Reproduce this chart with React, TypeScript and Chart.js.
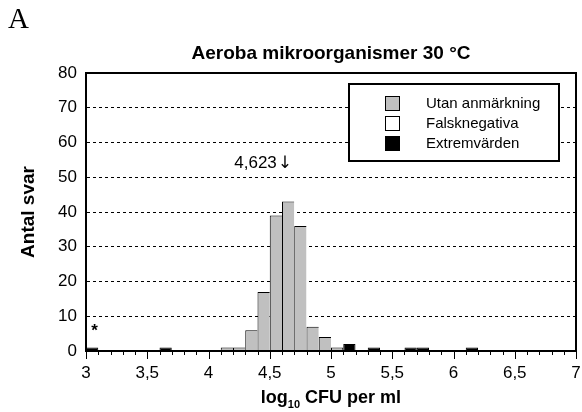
import React, { useEffect, useRef } from 'react';
import { Chart, registerables } from 'chart.js';

Chart.register(...registerables);

// ---- Text ----
const panelLetter = 'A';
const chartTitle = 'Aeroba mikroorganismer 30 °C';
const yAxisTitle = 'Antal svar';
const xAxisTitleMain = 'log';
const xAxisTitleSub = '10';
const xAxisTitleRest = ' CFU per ml';
const seriesNames = ['Utan anmärkning', 'Falsknegativa', 'Extremvärden'];
const seriesColors = ['#c0c0c0', '#ffffff', '#000000'];

// ---- Data (bin start, log10 CFU per ml; bin width 0.1) ----
const binWidth = 0.1;
const utanBinStarts = [4.1, 4.2, 4.3, 4.4, 4.5, 4.6, 4.7, 4.8, 4.9, 5.0];
const utanCounts = [1, 1, 6, 17, 39, 43, 36, 7, 4, 1];
const falskBinStarts: number[] = [];
const falskCounts: number[] = [];
const extremBinStarts = [3.0, 3.6, 5.1, 5.3, 5.6, 5.7, 6.1];
const extremCounts = [1, 1, 2, 1, 1, 1, 1];

// ---- Axes ----
const xMin = 3;
const xMax = 7;
const xLabelStep = 0.5;
const xMinorStep = 0.1;
const yMin = 0;
const yMax = 80;
const yStep = 10;

// ---- Annotations ----
const medianValue = 4.623;
const medianLabel = '4,623';
const medianLabelY = 54;
const asteriskX = 3.07;
const asteriskY = 5.8;

const FONT = "'Liberation Sans', Arial, sans-serif";

function toPoints(starts: number[], counts: number[]) {
  return starts.map((s, i) => ({ x: s + binWidth / 2, y: counts[i] }));
}

function runBorder(starts: number[]) {
  return (c: any) => {
    const i = c.dataIndex;
    const hasNext = starts.some((s) => Math.abs(s - starts[i] - binWidth) < 1e-6);
    return { top: 1, left: 1, right: hasNext ? 0 : 1, bottom: 0 };
  };
}

const decorPlugin = {
  id: 'decor',
  afterDraw(chart: any) {
    const { ctx, chartArea, scales } = chart;
    const xs = scales.x;
    const ys = scales.y;
    const { left, right, top, bottom } = chartArea;
    ctx.save();

    // x tick marks (minor & major)
    ctx.strokeStyle = '#000';
    ctx.lineWidth = 1;
    const n = Math.round((xMax - xMin) / xMinorStep);
    const perMajor = Math.round(xLabelStep / xMinorStep);
    for (let i = 0; i <= n; i++) {
      const v = xMin + i * xMinorStep;
      const px = Math.round(xs.getPixelForValue(v)) + 0.5;
      const len = i % perMajor === 0 ? 8 : 4;
      ctx.beginPath();
      ctx.moveTo(px, bottom);
      ctx.lineTo(px, bottom + len);
      ctx.stroke();
    }

    // frame
    ctx.lineWidth = 2;
    ctx.strokeRect(Math.round(left), Math.round(top), Math.round(right - left), Math.round(bottom - top));

    // legend box
    const bx = Math.round(right) - 227;
    const by = Math.round(top) + 11;
    const bw = 210;
    const bh = 77;
    ctx.fillStyle = '#fff';
    ctx.fillRect(bx, by, bw, bh);
    ctx.lineWidth = 2;
    ctx.strokeRect(bx, by, bw, bh);
    ctx.font = `15px ${FONT}`;
    ctx.textBaseline = 'middle';
    ctx.textAlign = 'left';
    seriesNames.forEach((name, i) => {
      const cy = by + 19 + i * 20;
      ctx.fillStyle = seriesColors[i];
      ctx.fillRect(bx + 36, cy - 7, 15, 15);
      ctx.lineWidth = 1;
      ctx.strokeStyle = '#000';
      ctx.strokeRect(bx + 36.5, cy - 6.5, 14, 14);
      ctx.fillStyle = '#000';
      ctx.fillText(name, bx + 77, cy + 1);
    });

    // median annotation
    const mx = xs.getPixelForValue(medianValue);
    const my = ys.getPixelForValue(medianLabelY);
    ctx.fillStyle = '#000';
    ctx.font = `17px ${FONT}`;
    ctx.textAlign = 'right';
    ctx.fillText(medianLabel, mx - 8, my);
    ctx.textAlign = 'center';
    ctx.font = `17px 'DejaVu Sans', sans-serif`;
    ctx.fillText('\u2193', mx, my);

    // asterisk
    ctx.font = `bold 17px ${FONT}`;
    ctx.textAlign = 'center';
    ctx.fillText('*', xs.getPixelForValue(asteriskX), ys.getPixelForValue(asteriskY));

    ctx.restore();
  },
};

export default function App() {
  const canvasRef = useRef<HTMLCanvasElement | null>(null);

  useEffect(() => {
    if (!canvasRef.current) return;
    const chart = new Chart(canvasRef.current, {
      type: 'bar',
      data: {
        datasets: [
          {
            label: seriesNames[0],
            data: toPoints(utanBinStarts, utanCounts),
            backgroundColor: seriesColors[0],
            borderColor: '#000',
            borderWidth: runBorder(utanBinStarts) as any,
            borderSkipped: 'bottom',
          },
          {
            label: seriesNames[1],
            data: toPoints(falskBinStarts, falskCounts),
            backgroundColor: seriesColors[1],
            borderColor: '#000',
            borderWidth: runBorder(falskBinStarts) as any,
            borderSkipped: 'bottom',
          },
          {
            label: seriesNames[2],
            data: toPoints(extremBinStarts, extremCounts),
            backgroundColor: seriesColors[2],
            borderColor: '#000',
            borderWidth: 1,
            borderSkipped: 'bottom',
          },
        ],
      },
      options: {
        responsive: false,
        animation: false,
        devicePixelRatio: 1,
        datasets: { bar: { barPercentage: 1, categoryPercentage: 1, inflateAmount: 0 } } as any,
        layout: { padding: { left: 0, right: 6, top: 0, bottom: 0 } },
        plugins: {
          legend: { display: false },
          tooltip: { enabled: false },
          title: {
            display: true,
            fullSize: false,
            text: chartTitle,
            color: '#000',
            font: { family: FONT, size: 19, weight: 'bold' },
            padding: { top: 42, bottom: 8.2 },
          },
        },
        scales: {
          x: {
            type: 'linear',
            min: xMin,
            max: xMax,
            offset: false,
            stacked: true,
            ticks: {
              stepSize: xLabelStep,
              autoSkip: false,
              maxRotation: 0,
              color: '#000',
              font: { family: FONT, size: 17 },
              padding: 12,
              callback: (v: any) => String(Math.round(Number(v) * 10) / 10).replace('.', ','),
            },
            grid: { display: true, drawOnChartArea: false, drawTicks: false },
            border: { display: true, color: '#000', width: 2 },
            afterFit: (s: any) => {
              s.height = 61;
              s.paddingLeft = 0;
              s.paddingRight = 0;
            },
          },
          y: {
            min: yMin,
            max: yMax,
            stacked: true,
            ticks: {
              stepSize: yStep,
              color: '#000',
              font: { family: FONT, size: 17 },
              padding: 9,
            },
            grid: {
              drawTicks: false,
              color: (c: any) => (c.tick && (c.tick.value === yMin || c.tick.value === yMax) ? 'rgba(0,0,0,0)' : '#000'),
              lineWidth: 1,
            },
            border: { display: true, color: '#000', width: 2, dash: [3, 3] },
            title: {
              display: true,
              text: yAxisTitle,
              color: '#000',
              font: { family: FONT, size: 19, weight: 'bold' },
              padding: { top: 17, bottom: 0 },
            },
            afterFit: (s: any) => {
              s.width = 86;
            },
          },
        },
      },
      plugins: [decorPlugin],
    });
    return () => chart.destroy();
  }, []);

  return (
    <div style={{ position: 'absolute', left: 0, top: 0, width: 582, height: 412, background: '#fff' }}>
      <canvas ref={canvasRef} width={582} height={412} style={{ display: 'block' }} />
      <div
        style={{
          position: 'absolute',
          left: 8,
          top: 4,
          fontFamily: "'Liberation Serif', 'Times New Roman', serif",
          fontSize: 29,
          lineHeight: '29px',
          color: '#000',
        }}
      >
        {panelLetter}
      </div>
      <div
        style={{
          position: 'absolute',
          left: 86,
          width: 490,
          top: 387,
          textAlign: 'center',
          fontFamily: FONT,
          fontWeight: 'bold',
          fontSize: 18,
          lineHeight: '20px',
          color: '#000',
          whiteSpace: 'nowrap',
        }}
      >
        {xAxisTitleMain}
        <sub style={{ fontSize: 11, verticalAlign: 'baseline', position: 'relative', top: 5 }}>{xAxisTitleSub}</sub>
        {xAxisTitleRest}
      </div>
    </div>
  );
}
